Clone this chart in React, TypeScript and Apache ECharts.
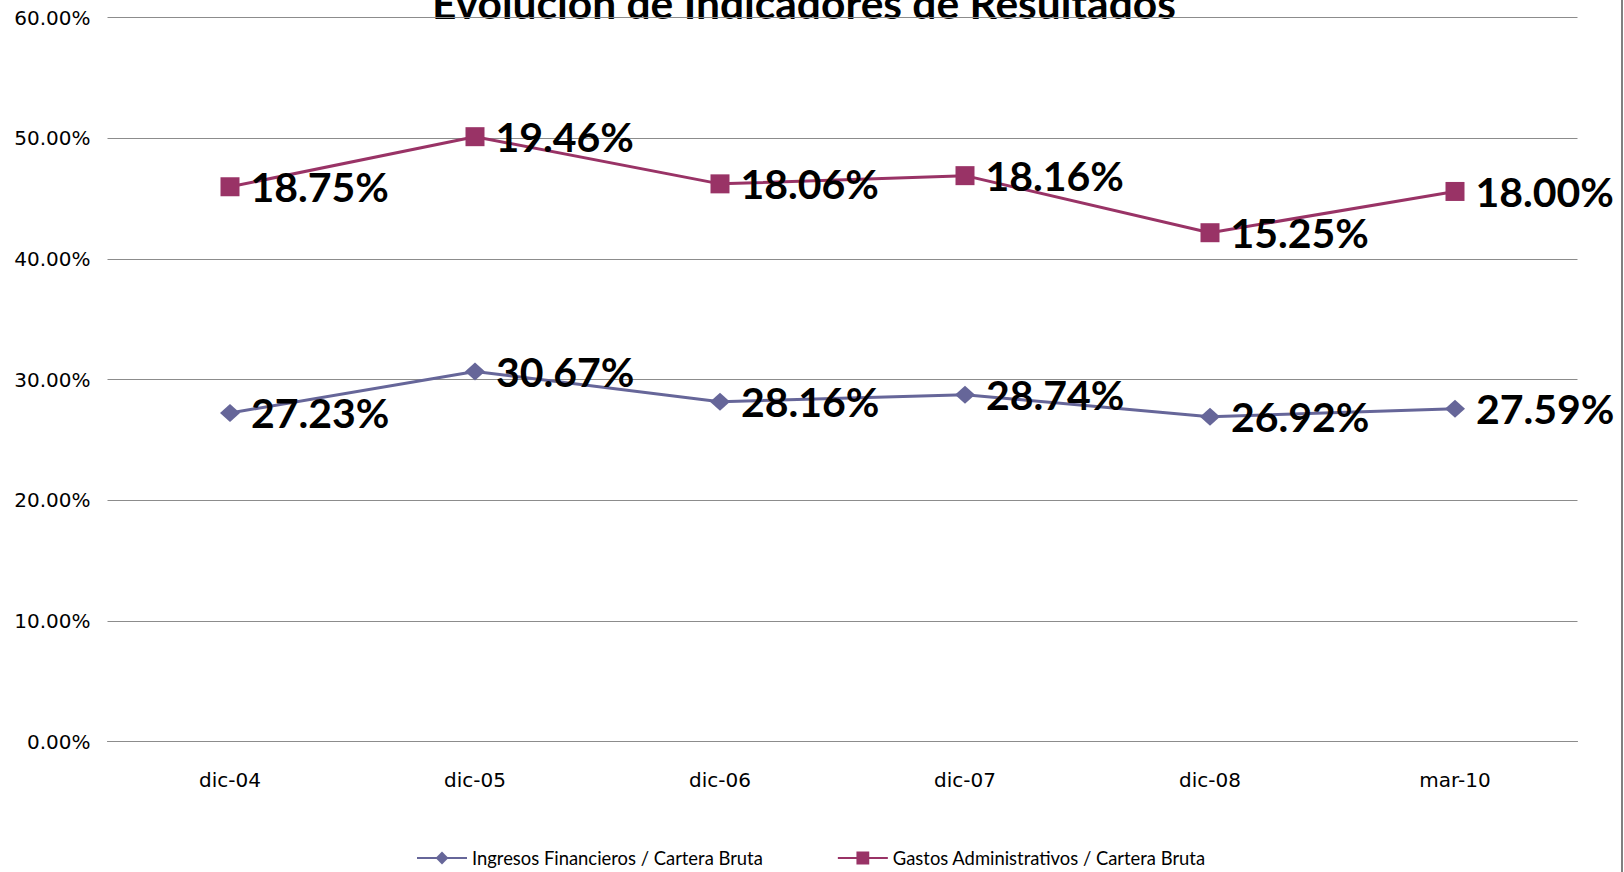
import React, { useEffect, useRef } from "react";
import * as echarts from "echarts";

const categories = ["dic-04", "dic-05", "dic-06", "dic-07", "dic-08", "mar-10"];
const ingresos = [0.2723, 0.3067, 0.2816, 0.2874, 0.2692, 0.2759];
const gastos = [0.1875, 0.1946, 0.1806, 0.1816, 0.1525, 0.18];
const seriesNames = ["Ingresos Financieros / Cartera Bruta", "Gastos Administrativos / Cartera Bruta"];
const titleText = "Evolución de Indicadores de Resultados";

const pct = (v: number) => (v * 100).toFixed(2) + "%";

export default function App() {
  const ref = useRef<HTMLDivElement>(null);
  useEffect(() => {
    if (!ref.current) return;
    const chart = echarts.init(ref.current, undefined, { renderer: "svg" });
    const labelStyle = {
      show: true,
      position: "right" as const,
      distance: 11,
      fontFamily: "Lato",
      fontWeight: "bold" as const,
      fontSize: 41,
      color: "#000",
      formatter: (p: any) => pct(p.value),
    };
    chart.setOption({
      animation: false,
      backgroundColor: "#fff",
      graphic: [
        {
          type: "text",
          x: 804,
          y: 2,
          style: {
            text: titleText,
            fontFamily: "Lato",
            fontWeight: "bold",
            fontSize: 42.5,
            fill: "#000",
            align: "center",
            verticalAlign: "middle",
          },
        },
        {
          type: "rect",
          shape: { x: 1621, y: 0, width: 2, height: 872 },
          style: { fill: "#808080" },
        },
      ],
      grid: { left: 107.5, right: 46.5, top: 17.6, bottom: 130.5 },
      legend: {
        bottom: 0,
        left: 411,
        itemWidth: 50,
        itemHeight: 16,
        itemGap: 74,
        textStyle: { fontFamily: "Lato", fontSize: 18.4, color: "#000" },
        data: seriesNames,
      },
      xAxis: {
        type: "category",
        data: categories,
        boundaryGap: true,
        axisLine: { lineStyle: { color: "#8c8c8c", width: 1 } },
        axisTick: { show: false },
        axisLabel: { fontFamily: "DejaVu Sans", fontSize: 20, color: "#000", margin: 28 },
      },
      yAxis: {
        type: "value",
        min: 0,
        max: 0.6,
        interval: 0.1,
        axisLine: { show: false },
        axisTick: { show: false },
        splitLine: { lineStyle: { color: "#8c8c8c", width: 1 } },
        axisLabel: {
          fontFamily: "DejaVu Sans",
          fontSize: 20,
          color: "#000",
          margin: 17,
          formatter: (v: number) => pct(v),
        },
      },
      series: [
        {
          name: seriesNames[0],
          type: "line",
          stack: "total",
          data: ingresos,
          color: "#666699",
          symbol: "diamond",
          symbolSize: [20, 18],
          lineStyle: { width: 3, color: "#666699" },
          itemStyle: { color: "#666699" },
          label: labelStyle,
        },
        {
          name: seriesNames[1],
          type: "line",
          stack: "total",
          data: gastos,
          color: "#993366",
          symbol: "rect",
          symbolSize: 19,
          lineStyle: { width: 3, color: "#993366" },
          itemStyle: { color: "#993366" },
          label: labelStyle,
        },
      ],
    });
    return () => chart.dispose();
  }, []);
  return (
    <div
      ref={ref}
      style={{ position: "fixed", left: 0, top: 0, width: 1624, height: 872 }}
    />
  );
}
